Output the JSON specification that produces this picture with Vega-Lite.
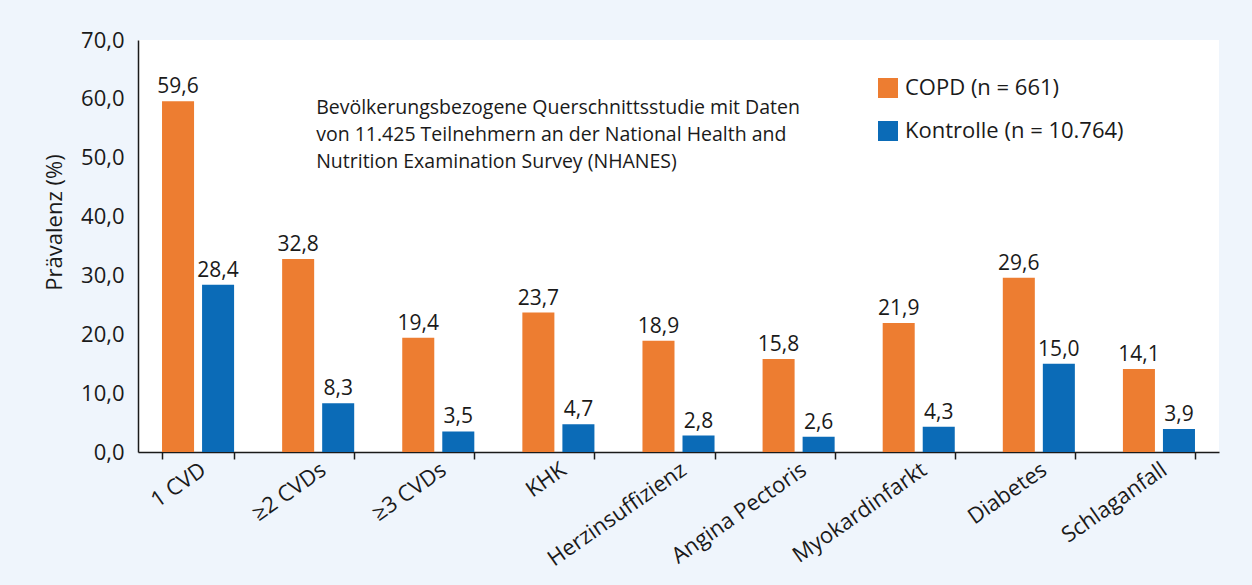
{
  "$schema": "https://vega.github.io/schema/vega-lite/v6.json",
  "autosize": {"type": "none"},
  "padding": {"left": 138, "top": 40, "right": 33, "bottom": 133},
  "width": 1081,
  "height": 412,
  "background": "#eff5fc",
  "config": {
    "font": "Open Sans",
    "locale": {"number": {"decimal": ",", "thousands": ".", "grouping": [3], "currency": ["", " €"]}},
    "view": {"fill": "white", "stroke": null}
  },
  "datasets": {
    "praevalenz": [
      {"kategorie": "1 CVD", "gruppe": "COPD (n = 661)", "wert": 59.6},
      {"kategorie": "1 CVD", "gruppe": "Kontrolle (n = 10.764)", "wert": 28.4},
      {"kategorie": "≥2 CVDs", "gruppe": "COPD (n = 661)", "wert": 32.8},
      {"kategorie": "≥2 CVDs", "gruppe": "Kontrolle (n = 10.764)", "wert": 8.3},
      {"kategorie": "≥3 CVDs", "gruppe": "COPD (n = 661)", "wert": 19.4},
      {"kategorie": "≥3 CVDs", "gruppe": "Kontrolle (n = 10.764)", "wert": 3.5},
      {"kategorie": "KHK", "gruppe": "COPD (n = 661)", "wert": 23.7},
      {"kategorie": "KHK", "gruppe": "Kontrolle (n = 10.764)", "wert": 4.7},
      {"kategorie": "Herzinsuffizienz", "gruppe": "COPD (n = 661)", "wert": 18.9},
      {"kategorie": "Herzinsuffizienz", "gruppe": "Kontrolle (n = 10.764)", "wert": 2.8},
      {"kategorie": "Angina Pectoris", "gruppe": "COPD (n = 661)", "wert": 15.8},
      {"kategorie": "Angina Pectoris", "gruppe": "Kontrolle (n = 10.764)", "wert": 2.6},
      {"kategorie": "Myokardinfarkt", "gruppe": "COPD (n = 661)", "wert": 21.9},
      {"kategorie": "Myokardinfarkt", "gruppe": "Kontrolle (n = 10.764)", "wert": 4.3},
      {"kategorie": "Diabetes", "gruppe": "COPD (n = 661)", "wert": 29.6},
      {"kategorie": "Diabetes", "gruppe": "Kontrolle (n = 10.764)", "wert": 15.0},
      {"kategorie": "Schlaganfall", "gruppe": "COPD (n = 661)", "wert": 14.1},
      {"kategorie": "Schlaganfall", "gruppe": "Kontrolle (n = 10.764)", "wert": 3.9}
    ],
    "notiz": [{"kategorie": "≥2 CVDs", "wert": 60.0}]
  },
  "layer": [
    {
      "data": {"name": "praevalenz"},
      "mark": {"type": "bar"},
      "encoding": {
        "x": {
          "field": "kategorie", "type": "nominal", "sort": null,
          "scale": {"paddingInner": 0.4, "paddingOuter": 0.2},
          "axis": {
            "title": null, "labelAngle": -35, "labelAlign": "right", "labelBaseline": "middle",
            "labelFontSize": 22, "labelColor": "#1a1a1a", "labelPadding": 8, "labelOffset": 5,
            "tickBand": "extent", "tickSize": 7, "tickColor": "#1a1a1a", "tickWidth": 1.5,
            "domainColor": "#1a1a1a", "domainWidth": 1.5
          }
        },
        "xOffset": {
          "field": "gruppe", "type": "nominal",
          "scale": {"paddingInner": 0.2, "paddingOuter": 0}
        },
        "y": {
          "field": "wert", "type": "quantitative",
          "scale": {"domain": [0, 70], "nice": false},
          "axis": {
            "title": "Prävalenz (%)", "titleFontSize": 22, "titleFontWeight": "normal", "titleColor": "#1a1a1a",
            "titlePadding": 14, "titleY": 182,
            "values": [0, 10, 20, 30, 40, 50, 60, 70], "format": ".1f",
            "labelFontSize": 22, "labelColor": "#1a1a1a", "labelPadding": 14,
            "ticks": false, "grid": false,
            "domainColor": "#1a1a1a", "domainWidth": 1.5
          }
        },
        "color": {
          "field": "gruppe", "type": "nominal",
          "scale": {"domain": ["COPD (n = 661)", "Kontrolle (n = 10.764)"], "range": ["#ed7d31", "#0b6bb7"]},
          "legend": {
            "title": null, "orient": "none", "legendX": 739, "legendY": 37,
            "symbolType": "square", "symbolSize": 400, "symbolStrokeWidth": 0,
            "labelFontSize": 22, "labelColor": "#1a1a1a", "labelOffset": 6,
            "rowPadding": 21, "padding": 0, "labelLimit": 400
          }
        }
      }
    },
    {
      "data": {"name": "praevalenz"},
      "mark": {"type": "text", "fontSize": 21, "color": "#1a1a1a", "baseline": "alphabetic", "dy": -8},
      "encoding": {
        "x": {"field": "kategorie", "type": "nominal", "sort": null},
        "xOffset": {"field": "gruppe", "type": "nominal"},
        "y": {"field": "wert", "type": "quantitative"},
        "text": {"field": "wert", "type": "quantitative", "format": ".1f"}
      }
    },
    {
      "data": {"name": "notiz"},
      "mark": {
        "type": "text", "align": "left", "baseline": "top", "fontSize": 19.5, "lineHeight": 27,
        "color": "#1a1a1a", "dx": -2,
        "text": ["Bevölkerungsbezogene Querschnittsstudie mit Daten", "von 11.425 Teilnehmern an der National Health and", "Nutrition Examination Survey (NHANES)"]
      },
      "encoding": {
        "x": {"field": "kategorie", "type": "nominal", "sort": null},
        "y": {"field": "wert", "type": "quantitative"}
      }
    }
  ]
}
